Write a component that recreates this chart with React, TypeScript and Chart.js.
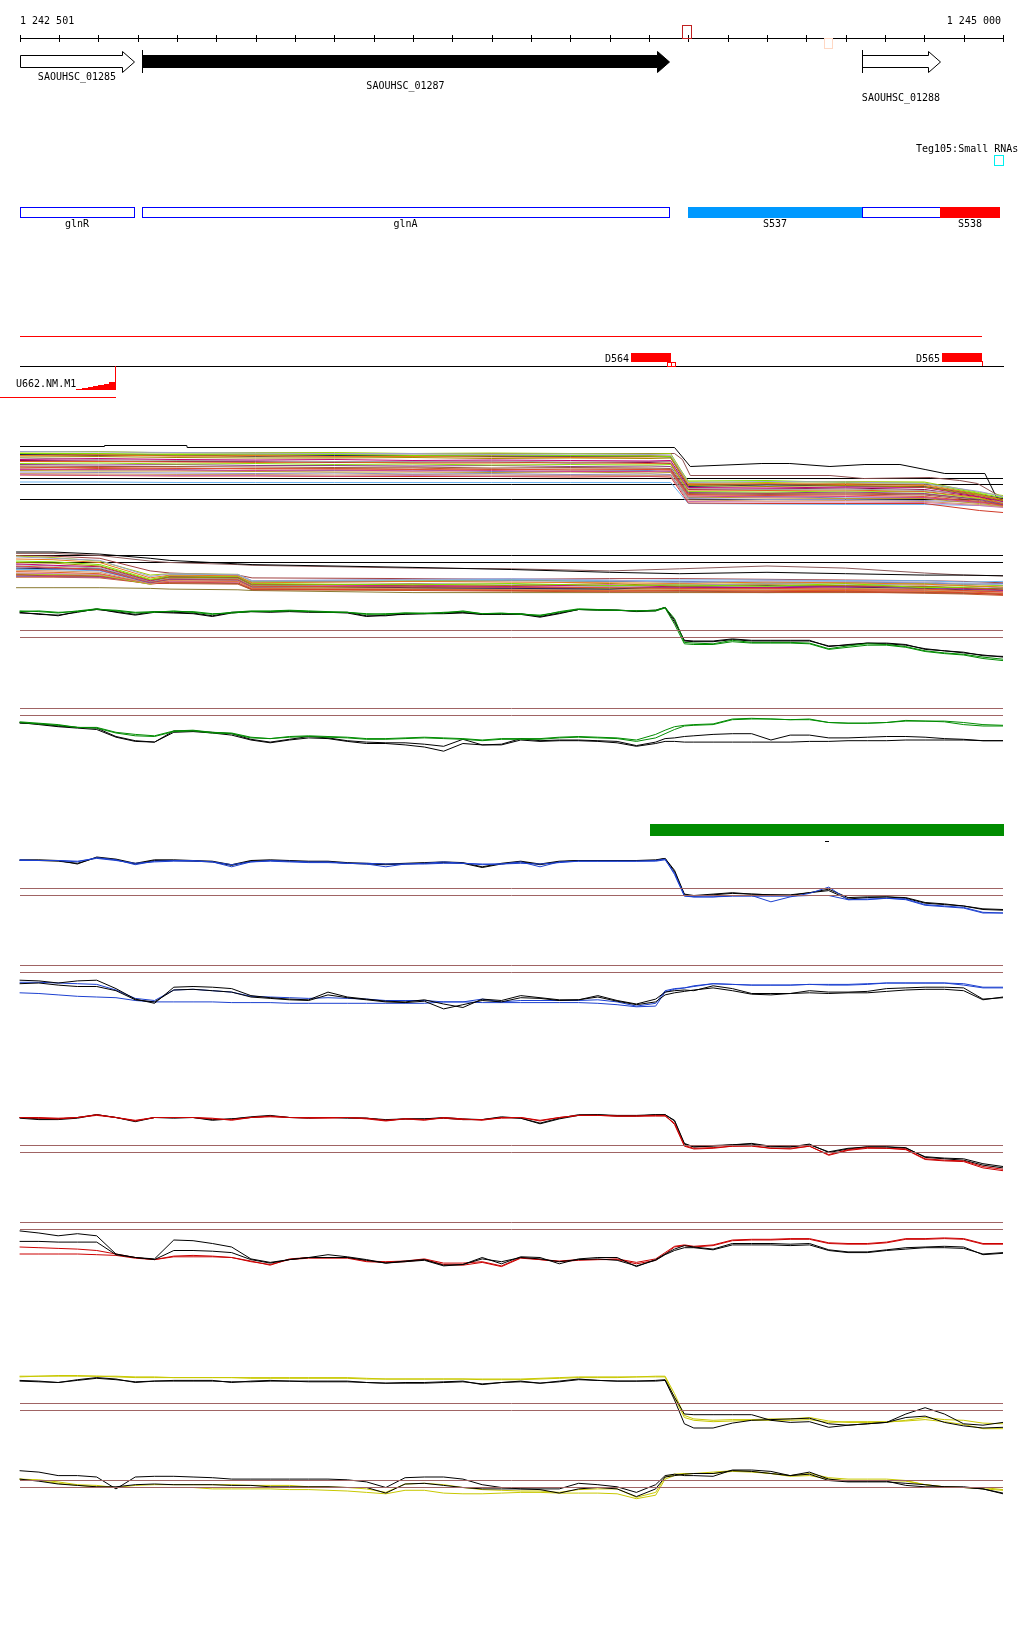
import React, { useEffect, useRef } from "react";
import { Chart, registerables } from "chart.js";
Chart.register(...registerables);

// ---------------- genomic window ----------------
const WINDOW_START = 1242501;
const WINDOW_END = 1245000;
const START_LABEL = "1 242 501";
const END_LABEL = "1 245 000";

// ---------------- annotation data ----------------
const GENE_NAMES = ["SAOUHSC_01285", "SAOUHSC_01287", "SAOUHSC_01288"];
const GENE_STARTS = [1242501, 1242810, 1244641];
const GENE_ENDS = [1242791, 1244151, 1244840];

const REGION_NAMES = ["glnR", "glnA", "S537", "", "S538"];
const REGION_STARTS = [1242501, 1242810, 1244199, 1244641, 1244840];
const REGION_ENDS = [1242790, 1244151, 1244641, 1244840, 1244992];

const RULER_MARK_STARTS = [1244184, 1244545];
const RULER_MARK_ENDS = [1244207, 1244565];

const SRNA_LABEL = "Teg105:Small RNAs";
const SRNA_START = 1244977;
const SRNA_END = 1245000;

const CONS_RED_START = 1242501;
const CONS_RED_END = 1244947;
const DOMAIN_NAMES = ["D564", "D565"];
const DOMAIN_STARTS = [1244054, 1244845];
const DOMAIN_ENDS = [1244156, 1244947];

const U662_LABEL = "U662.NM.M1";
const U662_STEP_STARTS = [1242643, 1242658, 1242673, 1242686, 1242699, 1242714, 1242727];
const U662_STEP_END = 1242742;
const U662_STEP_HEIGHTS = [1, 2, 3, 4, 5, 6, 8];

const SEG_BAR_START = 1244103;
const SEG_BAR_END = 1245000;
const SEG_MARK = 1244548;

// ---------------- multi-sample panel 1 ----------------
const M1_X = [1242501, 1242700, 1242900, 1243100, 1243300, 1243500, 1243700, 1243900, 1244100, 1244155, 1244200, 1244400, 1244600, 1244800, 1244940, 1245000];
const M1_LINES = [
  [9.6, 9.5, 9.4, 9.3, 9.2, 9.2, 9.0, 9.1, 9.0, 8.9, 3.4, 3.6, 3.5, 3.2, 1.6, 0.6],
  [9.2, 9.2, 9.0, 9.1, 9.0, 8.8, 8.9, 8.8, 8.7, 8.6, 3.7, 3.8, 3.4, 3.3, 1.2, 0.4],
  [8.8, 8.9, 8.7, 8.8, 8.6, 8.6, 8.5, 8.4, 8.5, 8.6, 3.0, 3.2, 3.0, 2.8, 1.0, 0.0],
  [8.5, 8.6, 8.4, 8.3, 8.3, 8.4, 8.2, 8.3, 8.2, 8.3, 2.8, 2.6, 2.8, 2.5, 0.8, -0.2],
  [8.0, 8.2, 8.0, 7.9, 8.0, 7.8, 7.9, 7.8, 7.7, 7.8, 2.4, 2.3, 2.5, 2.4, 0.6, -0.4],
  [8.3, 8.0, 7.8, 7.7, 7.6, 7.6, 7.7, 7.5, 7.6, 7.6, 2.2, 2.0, 2.1, 1.8, 0.9, -0.6],
  [7.6, 7.6, 7.5, 7.4, 7.5, 7.3, 7.3, 7.4, 7.2, 7.3, 1.9, 1.8, 1.9, 1.6, 0.4, -0.8],
  [7.2, 7.3, 7.1, 7.2, 7.0, 7.1, 6.9, 7.0, 6.9, 7.0, 1.6, 1.5, 1.7, 1.5, 0.2, -0.6],
  [7.0, 6.9, 7.0, 6.8, 6.8, 6.7, 6.8, 6.6, 6.7, 6.6, 1.4, 1.3, 1.5, 1.2, 0.0, -1.0],
  [6.7, 6.6, 6.6, 6.5, 6.4, 6.5, 6.3, 6.4, 6.3, 6.2, 1.2, 1.0, 1.1, 0.9, -0.2, -1.0],
  [6.3, 6.4, 6.2, 6.2, 6.1, 6.0, 6.1, 5.9, 6.0, 5.9, 0.9, 0.8, 0.9, 0.6, -0.4, -1.2],
  [6.0, 6.0, 5.9, 5.8, 5.9, 5.7, 5.8, 5.6, 5.6, 5.7, 0.7, 0.5, 0.6, 0.4, -0.6, -1.1],
  [5.8, 5.7, 5.7, 5.6, 5.5, 5.5, 5.4, 5.5, 5.3, 5.4, 0.5, 0.3, 0.2, 0.2, -0.8, -1.3],
  [5.5, 5.4, 5.3, 5.2, 5.3, 5.1, 5.2, 5.0, 5.1, 5.0, 0.2, 0.0, 0.0, -0.2, -0.6, -1.0],
  [5.2, 5.1, 5.0, 5.0, 4.9, 5.0, 4.9, 4.9, 4.8, 4.9, -0.1, -0.3, -0.2, -0.4, -1.0, -1.4],
  [5.0, 4.9, 4.8, 4.8, 4.7, 4.8, 4.7, 4.8, 4.7, 4.8, -0.4, -0.5, -0.5, -0.6, -1.2, -1.6],
  [4.9, 4.8, 4.7, 4.7, 4.6, 4.6, 4.6, 4.5, 4.6, 4.5, -0.7, -0.8, -0.8, -0.8, -2.2, -2.6],
  [3.5, 3.5, 3.4, 3.4, 3.4, 3.4, 3.4, 3.4, 3.4, 3.4, -0.8, -0.9, -1.0, -1.0, -1.2, -1.4],
  [9.0, 8.8, 8.9, 8.7, 8.8, 8.8, 8.6, 8.7, 8.6, 8.5, 2.6, 2.9, 2.7, 2.6, 1.0, 0.2],
  [9.5, 9.6, 9.3, 9.4, 9.4, 9.2, 9.3, 9.2, 9.1, 9.2, 3.5, 3.4, 3.6, 3.5, 1.4, 0.8],
  [6.5, 6.2, 6.3, 6.1, 6.2, 6.3, 6.0, 6.1, 6.1, 6.0, 1.0, 1.2, 1.3, 1.1, 0.1, -0.8],
  [7.8, 7.7, 7.6, 7.6, 7.4, 7.5, 7.5, 7.3, 7.4, 7.2, 2.0, 2.1, 2.3, 2.0, 0.5, -0.5],
  [9.0, 9.1, 8.7, 8.6, 8.5, 8.7, 8.8, 8.6, 8.8, 8.7, 3.2, 3.0, 3.2, 3.0, 1.1, -0.3],
  [6.1, 5.9, 6.0, 5.7, 5.8, 5.9, 5.6, 5.7, 5.8, 5.6, 0.4, 0.6, 0.3, 0.4, -0.5, -1.0],
];
const M1_TOP_X = [1242501, 1242715, 1242716, 1242925, 1242926, 1244165, 1244205, 1244387, 1244458, 1244560, 1244649, 1244738, 1244802, 1244852, 1244954, 1244985, 1245000];
const M1_TOP_V = [10.6, 10.6, 10.8, 10.8, 10.4, 10.4, 6.6, 7.2, 7.2, 6.6, 7.0, 7.0, 6.0, 5.2, 5.2, 0.2, 0.2];
const M1_BROWN_X = [1242501, 1244165, 1244185, 1244205, 1244560, 1244645, 1244815, 1244890, 1244935, 1244975, 1245000];
const M1_BROWN_V = [9.0, 9.2, 8.0, 4.8, 4.8, 4.2, 4.4, 3.8, 3.2, 1.4, 0.4];
const M1_REF_LEVELS = [4.2, 3.0, 0];

// ---------------- multi-sample panel 2 ----------------
const M2_X = [1242491, 1242585, 1242704, 1242832, 1242882, 1243055, 1243091, 1243500, 1243750, 1244000, 1244178, 1244400, 1244600, 1244800, 1244900, 1245000];
const M2_LINES = [
  [1.5, 1.5, 1.2, 0.6, 0.3, -0.2, -0.3, -0.7, -1.0, -1.4, -1.6, -1.4, -1.6, -1.8, -1.8, -1.9],
  [1.3, 1.3, 1.0, 0.2, 0.0, -0.3, -0.4, -0.8, -0.9, -1.2, -0.9, -0.5, -0.8, -1.5, -1.8, -1.9],
  [0.8, 0.6, 0.3, -2.0, -1.6, -1.7, -2.6, -2.4, -2.3, -2.5, -2.9, -2.6, -2.7, -2.8, -3.0, -3.2],
  [0.5, 0.4, 0.0, -2.2, -1.8, -1.9, -2.9, -2.7, -2.8, -2.9, -3.0, -2.8, -2.9, -3.1, -3.3, -3.5],
  [0.2, 0.1, -0.3, -2.4, -1.9, -2.0, -3.0, -3.2, -3.0, -3.3, -3.2, -3.4, -3.0, -3.6, -3.5, -3.3],
  [0.0, -0.1, -0.5, -2.5, -2.1, -2.2, -3.2, -3.1, -3.3, -3.0, -3.4, -3.2, -3.3, -3.4, -3.6, -3.8],
  [-0.2, -0.4, -0.6, -2.6, -2.0, -2.1, -3.1, -3.3, -3.4, -3.2, -3.5, -3.6, -3.5, -3.4, -3.7, -3.9],
  [-0.3, -0.5, -0.8, -2.7, -2.2, -2.3, -3.3, -3.0, -3.1, -3.4, -3.3, -3.0, -3.1, -3.2, -3.3, -3.6],
  [-0.5, -0.7, -1.0, -2.8, -2.3, -2.4, -3.4, -3.5, -3.5, -3.6, -3.7, -3.7, -3.8, -3.8, -4.0, -4.2],
  [-0.6, -0.8, -1.1, -2.9, -2.4, -2.5, -3.5, -3.4, -3.6, -3.5, -3.6, -3.5, -3.4, -3.6, -3.8, -4.0],
  [-0.8, -0.9, -0.9, -2.7, -2.1, -2.2, -3.3, -3.6, -3.7, -3.8, -3.4, -3.3, -3.5, -3.7, -3.9, -3.6],
  [-1.0, -1.0, -1.2, -2.9, -1.7, -1.8, -2.6, -2.5, -2.4, -2.6, -2.5, -2.5, -2.6, -2.6, -2.8, -2.7],
  [-1.1, -1.2, -1.4, -3.0, -2.5, -2.6, -3.6, -3.7, -3.8, -3.9, -3.8, -3.9, -3.8, -3.9, -4.1, -4.0],
  [-1.3, -1.4, -1.6, -3.0, -2.6, -2.7, -3.7, -3.8, -3.9, -4.0, -3.9, -4.0, -4.0, -4.1, -4.2, -4.4],
  [-1.5, -1.6, -1.7, -3.0, -2.7, -2.8, -3.2, -3.3, -3.4, -3.3, -3.1, -3.2, -3.3, -3.5, -3.6, -3.7],
  [-1.6, -1.7, -1.8, -3.1, -2.3, -2.4, -3.5, -3.6, -3.5, -3.7, -3.8, -3.6, -3.7, -3.9, -4.0, -4.0],
  [-1.7, -1.8, -1.9, -3.1, -2.8, -2.9, -3.8, -3.9, -4.0, -4.1, -4.0, -4.1, -4.2, -4.2, -4.3, -4.6],
  [-1.8, -1.9, -2.0, -2.8, -2.9, -3.0, -3.9, -3.8, -3.9, -4.0, -4.1, -4.2, -4.1, -4.3, -4.4, -4.5],
  [-1.9, -2.0, -2.1, -2.9, -2.4, -2.5, -3.6, -3.7, -3.6, -3.8, -3.7, -3.8, -3.9, -4.0, -4.1, -4.2],
  [-2.0, -2.0, -2.1, -2.8, -2.0, -2.1, -2.8, -2.7, -2.6, -2.7, -2.7, -2.8, -2.8, -2.9, -3.1, -3.0],
  [-2.1, -2.1, -2.2, -3.0, -3.0, -3.1, -3.9, -4.0, -4.1, -4.2, -4.2, -4.3, -4.2, -4.4, -4.5, -4.7],
  [-3.6, -3.6, -3.6, -3.7, -3.8, -3.9, -4.0, -4.3, -4.3, -4.3, -4.3, -4.3, -4.3, -4.3, -4.4, -4.4],
  [0.9, 0.7, 0.2, -1.8, -1.6, -1.7, -2.7, -2.6, -2.5, -2.7, -2.8, -3.0, -2.9, -3.0, -3.1, -3.3],
  [1.0, 0.9, 0.6, -1.2, -1.5, -1.8, -2.2, -2.3, -2.4, -2.3, -2.3, -2.4, -2.5, -2.6, -2.7, -2.9],
];
const M2_REF_LEVELS = [1, 0];

// ---------------- paired expression panels (shared positions) ----------------
const XS = [
  1242500, 1242549, 1242598, 1242647, 1242696, 1242745, 1242794, 1242843, 1242892, 1242941,
  1242990, 1243039, 1243088, 1243137, 1243186, 1243235, 1243284, 1243333, 1243382, 1243431,
  1243480, 1243529, 1243578, 1243627, 1243676, 1243725, 1243774, 1243823, 1243872, 1243921,
  1243970, 1244019, 1244068, 1244117, 1244141, 1244165, 1244190, 1244214, 1244263, 1244312,
  1244361, 1244410, 1244459, 1244508, 1244557, 1244606, 1244655, 1244704, 1244753, 1244802,
  1244851, 1244900, 1244949, 1245000,
];
const THRESHOLD_LEVELS = [1, 0];

const GA_GREEN_1 = [3.8, 3.7, 3.5, 3.8, 4.1, 3.8, 3.5, 3.6, 3.8, 3.6, 3.3, 3.6, 3.8, 3.8, 3.9, 3.8, 3.7, 3.6, 3.4, 3.3, 3.5, 3.5, 3.5, 3.8, 3.4, 3.4, 3.4, 3.1, 3.7, 4.1, 4.0, 3.9, 3.8, 3.9, 4.3, 2.7, -0.7, -0.8, -0.9, -0.4, -0.7, -0.7, -0.7, -0.8, -1.6, -1.2, -0.9, -1.0, -1.3, -1.9, -2.2, -2.4, -2.8, -3.1];
const GA_GREEN_2 = [3.7, 3.8, 3.6, 3.7, 4.0, 3.9, 3.6, 3.7, 3.7, 3.7, 3.4, 3.5, 3.7, 3.7, 3.8, 3.7, 3.6, 3.6, 3.3, 3.4, 3.5, 3.4, 3.6, 3.7, 3.4, 3.5, 3.3, 3.2, 3.6, 4.0, 3.9, 3.9, 3.8, 3.8, 4.2, 1.9, -0.9, -1.0, -1.0, -0.6, -0.8, -0.8, -0.8, -0.9, -1.7, -1.4, -1.1, -1.1, -1.4, -2.0, -2.3, -2.5, -3.0, -3.3];
const GA_BLACK_1 = [3.5, 3.4, 3.1, 3.7, 4.0, 3.7, 3.3, 3.7, 3.6, 3.5, 3.1, 3.6, 3.7, 3.7, 3.8, 3.7, 3.6, 3.6, 3.1, 3.1, 3.4, 3.4, 3.5, 3.6, 3.3, 3.4, 3.4, 3.0, 3.5, 4.0, 4.0, 3.9, 3.8, 3.9, 4.3, 2.2, -0.4, -0.5, -0.5, -0.2, -0.4, -0.4, -0.4, -0.4, -1.3, -1.0, -0.8, -0.8, -1.0, -1.7, -1.9, -2.1, -2.6, -2.7];
const GA_BLACK_2 = [3.6, 3.3, 3.2, 3.6, 4.1, 3.6, 3.2, 3.6, 3.5, 3.4, 3.0, 3.5, 3.7, 3.6, 3.7, 3.6, 3.6, 3.5, 3.0, 3.2, 3.3, 3.4, 3.4, 3.5, 3.3, 3.3, 3.3, 2.9, 3.4, 4.0, 3.9, 3.9, 3.7, 3.8, 4.3, 2.5, -0.5, -0.6, -0.6, -0.3, -0.5, -0.5, -0.5, -0.5, -1.2, -1.1, -0.8, -0.9, -1.1, -1.6, -1.9, -2.2, -2.5, -2.8];

const GB_GREEN_1 = [-0.9, -1.1, -1.3, -1.7, -1.7, -2.4, -2.7, -2.9, -2.2, -2.1, -2.4, -2.5, -3.1, -3.3, -3.0, -2.9, -3.0, -3.1, -3.3, -3.3, -3.2, -3.1, -3.2, -3.3, -3.5, -3.3, -3.3, -3.3, -3.1, -3.0, -3.1, -3.2, -3.5, -2.7, -2.1, -1.6, -1.4, -1.3, -1.2, -0.5, -0.4, -0.5, -0.6, -0.5, -1.0, -1.1, -1.1, -1.0, -0.7, -0.8, -0.8, -1.0, -1.3, -1.4];
const GB_GREEN_2 = [-1.0, -1.2, -1.4, -1.7, -1.8, -2.5, -2.9, -3.0, -2.3, -2.2, -2.5, -2.6, -3.2, -3.3, -3.1, -3.0, -3.1, -3.2, -3.4, -3.4, -3.3, -3.2, -3.3, -3.4, -3.6, -3.4, -3.4, -3.4, -3.2, -3.1, -3.2, -3.3, -3.7, -3.2, -2.6, -2.0, -1.5, -1.4, -1.3, -0.6, -0.5, -0.5, -0.6, -0.6, -1.0, -1.1, -1.1, -1.0, -0.8, -0.8, -0.9, -1.3, -1.5, -1.5];
const GB_BLACK_1 = [-1.1, -1.2, -1.5, -1.7, -1.8, -3.0, -3.6, -3.8, -2.2, -2.2, -2.4, -2.6, -3.4, -3.8, -3.4, -3.0, -3.2, -3.6, -3.8, -3.9, -3.9, -4.1, -4.4, -3.4, -4.2, -4.1, -3.3, -3.6, -3.5, -3.5, -3.6, -3.7, -4.3, -3.8, -3.3, -3.2, -3.0, -2.9, -2.7, -2.6, -2.6, -3.5, -2.8, -2.8, -3.2, -3.2, -3.1, -3.0, -3.0, -3.1, -3.3, -3.4, -3.6, -3.6];
const GB_BLACK_2 = [-1.0, -1.3, -1.6, -1.8, -2.0, -3.1, -3.7, -3.8, -2.4, -2.3, -2.5, -2.8, -3.5, -3.9, -3.5, -3.2, -3.3, -3.7, -4.0, -4.0, -4.2, -4.5, -5.1, -4.0, -4.2, -4.2, -3.5, -3.7, -3.6, -3.6, -3.7, -3.9, -4.4, -4.0, -3.7, -3.7, -3.8, -3.8, -3.8, -3.8, -3.8, -3.8, -3.8, -3.7, -3.7, -3.6, -3.6, -3.6, -3.5, -3.5, -3.5, -3.5, -3.6, -3.6];

const BA_BLUE_1 = [5.1, 5.0, 5.0, 4.8, 5.4, 5.1, 4.4, 4.9, 5.0, 5.0, 4.8, 4.1, 4.8, 5.0, 4.9, 4.8, 4.8, 4.6, 4.5, 4.1, 4.5, 4.6, 4.8, 4.6, 4.4, 4.5, 4.8, 4.1, 4.8, 4.9, 4.9, 4.9, 4.9, 5.0, 5.2, 3.0, -0.1, -0.2, -0.2, 0.0, 0.0, -0.9, -0.2, 0.3, 1.2, -0.6, -0.5, -0.4, -0.5, -1.3, -1.5, -1.7, -2.4, -2.5];
const BA_BLUE_2 = [5.0, 5.0, 5.0, 4.9, 5.3, 5.0, 4.6, 4.8, 4.9, 4.9, 4.8, 4.4, 4.8, 4.9, 4.8, 4.7, 4.7, 4.6, 4.6, 4.5, 4.5, 4.5, 4.6, 4.6, 4.5, 4.5, 4.6, 4.5, 4.7, 4.9, 4.9, 4.9, 4.9, 4.9, 5.1, 3.2, 0.0, -0.2, -0.2, -0.1, -0.1, -0.1, -0.1, 0.0, 0.0, -0.6, -0.6, -0.4, -0.6, -1.4, -1.6, -1.8, -2.5, -2.5];
const BA_BLACK_1 = [5.1, 5.1, 5.0, 4.5, 5.5, 5.2, 4.6, 5.1, 5.1, 5.0, 4.9, 4.4, 5.0, 5.1, 5.0, 4.9, 4.9, 4.7, 4.6, 4.5, 4.6, 4.7, 4.8, 4.7, 4.1, 4.6, 4.9, 4.5, 4.9, 5.0, 5.0, 5.0, 5.0, 5.1, 5.3, 3.4, 0.1, -0.1, 0.1, 0.3, 0.2, 0.1, 0.0, 0.4, 0.7, -0.5, -0.3, -0.2, -0.4, -1.1, -1.3, -1.5, -2.0, -2.1];
const BA_BLACK_2 = [5.0, 5.0, 4.9, 4.6, 5.4, 5.1, 4.5, 5.0, 5.0, 4.9, 4.8, 4.3, 4.9, 5.0, 4.9, 4.8, 4.8, 4.6, 4.5, 4.4, 4.5, 4.6, 4.7, 4.6, 4.0, 4.5, 4.8, 4.4, 4.8, 5.0, 5.0, 5.0, 5.0, 5.0, 5.3, 3.6, 0.2, 0.0, 0.2, 0.4, 0.2, 0.1, 0.1, 0.4, 0.9, -0.3, -0.2, -0.2, -0.3, -1.0, -1.2, -1.5, -1.9, -2.0];

const BB_BLACK_1 = [-1.1, -1.2, -1.5, -1.2, -1.1, -2.3, -3.8, -4.4, -2.1, -2.0, -2.1, -2.3, -3.3, -3.6, -3.8, -3.9, -2.8, -3.5, -3.8, -4.1, -4.2, -3.9, -4.5, -5.0, -3.8, -4.0, -3.3, -3.6, -3.9, -3.9, -3.3, -4.0, -4.5, -3.8, -2.8, -2.6, -2.5, -2.6, -1.9, -2.3, -3.0, -3.0, -3.0, -2.6, -2.8, -2.8, -2.7, -2.3, -2.2, -2.1, -2.1, -2.2, -3.8, -3.6];
const BB_BLACK_2 = [-1.6, -1.5, -1.8, -2.0, -2.0, -2.6, -3.9, -4.2, -2.5, -2.4, -2.6, -2.8, -3.5, -3.7, -3.9, -4.0, -3.2, -3.6, -3.9, -4.2, -4.3, -4.1, -5.2, -4.6, -4.0, -4.2, -3.6, -3.7, -4.0, -3.9, -3.5, -4.1, -4.6, -4.2, -3.2, -2.9, -2.7, -2.5, -2.2, -2.6, -3.1, -3.2, -3.0, -2.9, -3.0, -2.9, -2.9, -2.7, -2.5, -2.4, -2.4, -2.6, -3.9, -3.5];
const BB_BLUE_1 = [-1.4, -1.4, -1.5, -1.6, -1.7, -2.5, -3.7, -4.0, -2.5, -2.4, -2.6, -2.8, -3.4, -3.5, -3.6, -3.7, -3.6, -3.7, -3.8, -4.0, -4.0, -4.0, -4.2, -4.2, -3.8, -4.2, -4.0, -4.0, -4.0, -4.0, -3.9, -4.2, -4.8, -4.4, -2.6, -2.3, -2.2, -2.0, -1.6, -1.7, -1.8, -1.8, -1.8, -1.7, -1.8, -1.8, -1.7, -1.5, -1.5, -1.5, -1.5, -1.6, -2.1, -2.1];
const BB_BLUE_2 = [-2.9, -3.0, -3.2, -3.4, -3.5, -3.6, -4.0, -4.2, -4.2, -4.2, -4.2, -4.3, -4.3, -4.3, -4.4, -4.4, -4.4, -4.4, -4.4, -4.4, -4.4, -4.4, -4.2, -4.2, -4.3, -4.3, -4.3, -4.3, -4.3, -4.3, -4.4, -4.6, -4.9, -4.8, -2.8, -2.4, -2.2, -1.9, -1.6, -1.7, -1.8, -1.8, -1.8, -1.7, -1.7, -1.7, -1.6, -1.5, -1.5, -1.5, -1.5, -1.8, -2.2, -2.2];

const RA_RED_1 = [5.0, 4.9, 4.8, 5.0, 5.4, 5.0, 4.5, 5.0, 5.0, 5.0, 4.8, 4.7, 5.0, 5.2, 5.0, 5.0, 5.0, 5.0, 4.8, 4.5, 4.8, 4.6, 5.0, 4.8, 4.6, 5.0, 5.0, 4.5, 5.0, 5.3, 5.3, 5.2, 5.2, 5.3, 5.3, 4.0, 0.9, 0.5, 0.6, 0.9, 0.9, 0.6, 0.5, 0.9, -0.4, 0.3, 0.6, 0.6, 0.4, -1.0, -1.2, -1.3, -2.2, -2.6];
const RA_RED_2 = [5.0, 5.0, 4.9, 5.0, 5.3, 5.0, 4.6, 5.0, 5.0, 5.0, 4.9, 4.6, 5.0, 5.1, 5.0, 4.9, 4.9, 5.0, 4.9, 4.6, 4.8, 4.7, 4.9, 4.7, 4.7, 4.9, 5.0, 4.6, 5.0, 5.3, 5.3, 5.2, 5.2, 5.2, 5.2, 4.2, 1.0, 0.6, 0.7, 0.9, 1.0, 0.6, 0.6, 0.9, -0.3, 0.4, 0.7, 0.6, 0.5, -0.9, -1.1, -1.2, -2.0, -2.4];
const RA_BLACK_1 = [4.9, 4.7, 4.7, 4.9, 5.4, 5.0, 4.4, 5.0, 4.9, 5.0, 4.6, 4.8, 5.1, 5.3, 5.0, 4.9, 5.0, 4.9, 4.9, 4.7, 4.8, 4.8, 4.9, 4.7, 4.7, 5.1, 4.9, 4.2, 4.9, 5.4, 5.4, 5.2, 5.2, 5.4, 5.4, 4.5, 1.2, 0.8, 0.9, 1.1, 1.3, 0.9, 0.8, 1.2, 0.0, 0.5, 0.8, 0.8, 0.6, -0.6, -0.8, -0.9, -1.6, -2.0];
const RA_BLACK_2 = [5.0, 4.8, 4.8, 5.0, 5.4, 5.0, 4.5, 5.0, 5.0, 5.0, 4.7, 4.8, 5.0, 5.2, 5.0, 5.0, 5.0, 5.0, 4.9, 4.6, 4.8, 4.8, 5.0, 4.8, 4.7, 5.0, 4.9, 4.1, 4.8, 5.3, 5.4, 5.3, 5.3, 5.4, 5.4, 4.6, 1.3, 0.8, 1.0, 1.1, 1.2, 0.8, 0.8, 1.1, 0.1, 0.6, 0.8, 0.8, 0.7, -0.7, -0.9, -1.1, -1.8, -2.2];

const RB_BLACK_1 = [-0.2, -0.5, -0.9, -0.6, -0.9, -3.5, -4.0, -4.2, -1.5, -1.6, -2.0, -2.5, -4.2, -4.7, -4.3, -4.0, -3.6, -3.9, -4.3, -4.8, -4.5, -4.3, -5.1, -5.0, -4.0, -4.9, -3.9, -4.0, -4.9, -4.2, -4.0, -4.0, -5.3, -4.3, -3.5, -2.8, -2.3, -2.5, -2.8, -2.0, -2.0, -2.0, -2.1, -2.0, -2.9, -3.2, -3.2, -2.9, -2.6, -2.5, -2.4, -2.5, -3.6, -3.4];
const RB_BLACK_2 = [-1.7, -1.7, -1.8, -1.8, -1.8, -3.6, -4.0, -4.3, -3.0, -3.0, -3.1, -3.3, -4.3, -4.8, -4.3, -4.0, -4.0, -4.0, -4.4, -4.8, -4.6, -4.4, -5.2, -5.0, -4.2, -4.6, -4.0, -4.2, -4.6, -4.3, -4.2, -4.4, -5.2, -4.4, -3.6, -3.0, -2.6, -2.6, -2.9, -2.2, -2.2, -2.2, -2.3, -2.2, -3.0, -3.3, -3.3, -3.0, -2.8, -2.6, -2.6, -2.7, -3.5, -3.3];
const RB_RED_1 = [-2.5, -2.6, -2.7, -2.8, -3.0, -3.5, -4.0, -4.3, -3.8, -3.7, -3.8, -4.0, -4.5, -5.1, -4.2, -4.0, -4.0, -4.0, -4.5, -4.6, -4.5, -4.2, -4.8, -4.8, -4.6, -5.2, -4.0, -4.3, -4.5, -4.3, -4.3, -4.2, -4.7, -4.2, -3.3, -2.4, -2.2, -2.4, -2.2, -1.5, -1.4, -1.4, -1.3, -1.3, -1.9, -2.0, -2.0, -1.8, -1.3, -1.3, -1.2, -1.3, -2.0, -2.0];
const RB_RED_2 = [-3.5, -3.5, -3.5, -3.5, -3.6, -3.7, -4.1, -4.3, -3.9, -3.9, -3.9, -4.0, -4.6, -5.0, -4.3, -4.1, -4.1, -4.1, -4.6, -4.7, -4.6, -4.3, -5.0, -5.1, -4.7, -5.3, -4.1, -4.3, -4.6, -4.4, -4.3, -4.3, -4.9, -4.4, -3.5, -2.5, -2.3, -2.5, -2.3, -1.6, -1.5, -1.5, -1.4, -1.4, -2.0, -2.1, -2.1, -1.9, -1.4, -1.4, -1.3, -1.4, -2.1, -2.1];

const YA_YELLOW_1 = [4.9, 4.9, 5.0, 5.0, 4.9, 4.9, 4.8, 4.8, 4.7, 4.7, 4.7, 4.7, 4.7, 4.7, 4.7, 4.7, 4.7, 4.7, 4.6, 4.5, 4.5, 4.5, 4.5, 4.5, 4.5, 4.5, 4.5, 4.6, 4.7, 4.8, 4.8, 4.8, 4.8, 4.9, 4.9, 2.4, -0.7, -1.2, -1.4, -1.3, -1.3, -1.2, -1.2, -1.0, -1.5, -1.7, -1.7, -1.7, -1.4, -1.0, -1.3, -1.4, -1.8, -1.9];
const YA_YELLOW_2 = [4.8, 4.9, 4.9, 4.9, 4.9, 4.8, 4.7, 4.7, 4.7, 4.7, 4.7, 4.7, 4.6, 4.6, 4.6, 4.6, 4.6, 4.6, 4.5, 4.5, 4.5, 4.5, 4.5, 4.5, 4.4, 4.4, 4.4, 4.5, 4.6, 4.7, 4.7, 4.7, 4.8, 4.8, 4.8, 1.8, -1.0, -1.4, -1.6, -1.5, -1.4, -1.4, -1.4, -1.3, -1.7, -1.6, -1.6, -1.6, -1.5, -1.3, -1.6, -2.0, -2.6, -2.6];
const YA_BLACK_1 = [4.3, 4.2, 4.0, 4.4, 4.7, 4.5, 4.0, 4.2, 4.3, 4.3, 4.3, 4.0, 4.2, 4.3, 4.2, 4.2, 4.2, 4.2, 4.0, 3.9, 4.0, 4.0, 4.1, 4.2, 3.7, 4.0, 4.2, 3.9, 4.2, 4.5, 4.3, 4.2, 4.2, 4.3, 4.4, 1.9, -0.5, -0.6, -0.6, -0.6, -0.6, -1.4, -1.7, -1.6, -2.4, -2.1, -1.9, -1.7, -0.5, 0.4, -0.5, -1.9, -2.1, -1.7];
const YA_BLACK_2 = [4.2, 4.1, 4.0, 4.3, 4.6, 4.4, 4.1, 4.2, 4.2, 4.2, 4.2, 4.1, 4.1, 4.2, 4.2, 4.1, 4.1, 4.1, 4.0, 3.9, 3.9, 3.9, 4.0, 4.1, 3.8, 4.0, 4.1, 3.9, 4.1, 4.4, 4.3, 4.2, 4.2, 4.2, 4.3, 1.5, -1.9, -2.5, -2.5, -1.8, -1.4, -1.3, -1.2, -1.1, -1.9, -2.1, -1.9, -1.7, -1.0, -0.8, -1.7, -2.2, -2.5, -2.4];

const YB_BLACK_1 = [2.4, 2.2, 1.7, 1.7, 1.5, -0.2, 1.5, 1.6, 1.6, 1.5, 1.4, 1.2, 1.2, 1.2, 1.2, 1.2, 1.2, 1.1, 0.8, 0.0, 1.4, 1.5, 1.5, 1.2, 0.4, 0.0, -0.2, -0.2, -0.2, 0.6, 0.4, 0.1, -0.7, 0.4, 1.7, 1.9, 1.7, 1.7, 1.6, 2.5, 2.5, 2.3, 1.7, 2.2, 1.2, 0.9, 0.9, 0.9, 0.3, 0.1, 0.1, 0.1, -0.2, -0.9];
const YB_BLACK_2 = [1.2, 0.9, 0.5, 0.3, 0.1, 0.1, 0.4, 0.5, 0.4, 0.4, 0.4, 0.3, 0.3, 0.1, 0.1, 0.1, 0.1, 0.0, 0.0, -0.8, 0.5, 0.6, 0.3, 0.0, -0.2, -0.2, -0.2, -0.3, -0.8, -0.2, 0.0, -0.2, -1.3, -0.2, 1.5, 1.7, 1.9, 2.0, 2.0, 2.4, 2.3, 2.0, 1.7, 1.9, 1.0, 0.8, 0.8, 0.8, 0.6, 0.4, 0.1, 0.0, -0.2, -0.8];
const YB_YELLOW_1 = [1.2, 1.1, 0.8, 0.4, 0.3, 0.0, 0.3, 0.4, 0.4, 0.4, 0.4, 0.4, 0.3, 0.3, 0.3, 0.1, 0.1, 0.0, -0.2, -0.7, 0.5, 0.6, 0.4, 0.0, -0.3, -0.4, -0.5, -0.5, -0.7, -0.3, -0.2, -0.2, -1.4, -0.7, 1.5, 1.9, 2.0, 2.0, 2.2, 2.4, 2.3, 2.0, 1.7, 2.0, 1.4, 1.2, 1.2, 1.2, 1.0, 0.4, 0.1, 0.0, 0.0, -0.3];
const YB_YELLOW_2 = [1.2, 1.0, 0.6, 0.3, 0.1, 0.0, 0.0, 0.0, 0.0, 0.0, -0.2, -0.2, -0.2, -0.2, -0.3, -0.3, -0.4, -0.5, -0.7, -0.9, -0.4, -0.4, -0.8, -0.9, -0.9, -0.8, -0.7, -0.7, -0.8, -0.8, -0.8, -0.9, -1.6, -1.1, 1.2, 1.7, 1.9, 2.0, 2.0, 2.3, 2.2, 2.0, 1.6, 1.7, 1.2, 1.0, 1.0, 1.0, 0.9, 0.4, 0.1, 0.0, -0.2, -0.4];

// ---------------- styles & layout ----------------
const W = 1024;
const H = 1640;
const LEFT_PX = 20;
const RIGHT_PX = 1003;
const PX_PER_BP = (RIGHT_PX - LEFT_PX) / (WINDOW_END - WINDOW_START);
const XMIN = WINDOW_START - LEFT_PX / PX_PER_BP;
const XMAX = XMIN + W / PX_PER_BP;
const FONT = '10px "DejaVu Sans Mono", "Liberation Mono", monospace';

const C_GREEN = "#008c00";
const C_BLUE = "#1c40d0";
const C_RED = "#cc0000";
const C_YELLOW = "#c8c800";
const C_BLACK = "#000000";
const C_THRESH = "#a06464";

const M1_COLORS = ["#a0a0d0", "#7fe000", "#e8781e", "#a08a00", "#c0007a", "#a0a0a0", "#e06020", "#90e010", "#8a3d8a", "#9c5a3c", "#e04a30", "#d0408f", "#b89a30", "#9090c0", "#d09a6a", "#d070b0", "#d03a28", "#6cb4f0", "#1a2050", "#a0d000", "#c05a28", "#8a0050", "#c88a3a", "#7080c0"];
const M2_COLORS = ["#000000", "#8b5a5a", "#a0a0d0", "#e8781e", "#7fe000", "#a08a00", "#c0007a", "#a0a0a0", "#e04a30", "#8a3d8a", "#1a2050", "#6cb4f0", "#d09a6a", "#e06020", "#d070b0", "#90e010", "#d03a28", "#9c5a3c", "#d0408f", "#7080c0", "#c05a28", "#8a7a30", "#a0d000", "#a04040"];

// panel placement: pixel row of value 0 and pixels per unit
const PANELS: Record<string, { row: number; ppu: number }> = {
  yM1: { row: 499, ppu: 5 },
  yM2: { row: 562, ppu: 7 },
  yGA: { row: 637, ppu: 7 },
  yGB: { row: 715, ppu: 7 },
  yBA: { row: 895, ppu: 7 },
  yBB: { row: 972, ppu: 7 },
  yRA: { row: 1152, ppu: 7 },
  yRB: { row: 1229, ppu: 7 },
  yYA: { row: 1410, ppu: 7 },
  yYB: { row: 1487, ppu: 7 },
};

const L = {
  rulerLabelBase: 24, rulerRow: 38, tickTop: 35, tickBot: 41,
  markRedTop: 25, markRedBot: 38, markPeachTop: 38, markPeachBot: 48,
  bodyTop: 55, bodyBot: 67, headTop: 51, headBot: 72, headLen: 12, startTickTop: 50, startTickBot: 72,
  geneLabelBase: [80, 89, 101],
  srnaLabelX: 916, srnaLabelBase: 152, srnaBoxTop: 155, srnaBoxBot: 165,
  regionTop: 207, regionBot: 217, regionLabelBase: 227,
  consRedRow: 336, consBlackRow: 366, domTop: 353, domBot: 361, domLabelBase: 362,
  u662LabelX: 16, u662LabelBase: 387, u662Base: 389, u662LineRow: 397,
  segTop: 824, segBot: 835, segMarkRow: 841,
};

function series(xs: number[], ys: number[]) {
  return xs.map((x, i) => ({ x, y: ys[i] }));
}

function lineDs(xs: number[], ys: number[], color: string, axis: string, width = 1) {
  return {
    type: "line",
    data: series(xs, ys),
    borderColor: color,
    backgroundColor: color,
    borderWidth: width,
    pointRadius: 0,
    pointHoverRadius: 0,
    fill: false,
    tension: 0,
    xAxisID: "x",
    yAxisID: axis,
  };
}

const tracksPlugin = {
  id: "genomeTracks",
  afterDatasetsDraw(chart: any) {
    const ctx = chart.ctx;
    const xs = chart.scales.x;
    const X = (bp: number) => Math.round(xs.getPixelForValue(bp));
    ctx.save();
    ctx.font = FONT;
    ctx.textBaseline = "alphabetic";
    ctx.lineWidth = 1;

    // ruler
    ctx.fillStyle = "#000";
    ctx.textAlign = "left";
    ctx.fillText(START_LABEL, X(WINDOW_START), L.rulerLabelBase);
    ctx.textAlign = "right";
    ctx.fillText(END_LABEL, X(WINDOW_END) - 2, L.rulerLabelBase);
    ctx.fillRect(X(WINDOW_START), L.rulerRow, X(WINDOW_END) - X(WINDOW_START) + 1, 1);
    const ticks = [WINDOW_START];
    for (let t = Math.ceil((WINDOW_START + 1) / 100) * 100; t <= WINDOW_END; t += 100) ticks.push(t);
    ticks.forEach((t) => ctx.fillRect(X(t), L.tickTop, 1, L.tickBot - L.tickTop + 1));
    ctx.strokeStyle = "#c02020";
    ctx.strokeRect(X(RULER_MARK_STARTS[0]) + 0.5, L.markRedTop + 0.5, X(RULER_MARK_ENDS[0]) - X(RULER_MARK_STARTS[0]), L.markRedBot - L.markRedTop);
    ctx.strokeStyle = "#ffd8c4";
    ctx.strokeRect(X(RULER_MARK_STARTS[1]) + 0.5, L.markPeachTop + 0.5, X(RULER_MARK_ENDS[1]) - X(RULER_MARK_STARTS[1]), L.markPeachBot - L.markPeachTop);

    // genes
    const fills = ["#ffffff", "#000000", "#ffffff"];
    GENE_NAMES.forEach((name, i) => {
      const x0 = X(GENE_STARTS[i]);
      const x1 = X(GENE_ENDS[i]);
      const hb = x1 - L.headLen;
      const mid = (L.headTop + L.headBot) / 2 + 0.5;
      ctx.beginPath();
      ctx.moveTo(x0 + 0.5, L.bodyTop + 0.5);
      ctx.lineTo(hb + 0.5, L.bodyTop + 0.5);
      ctx.lineTo(hb + 0.5, L.headTop + 0.5);
      ctx.lineTo(x1 + 0.5, mid);
      ctx.lineTo(hb + 0.5, L.headBot + 0.5);
      ctx.lineTo(hb + 0.5, L.bodyBot + 0.5);
      ctx.lineTo(x0 + 0.5, L.bodyBot + 0.5);
      ctx.closePath();
      ctx.fillStyle = fills[i];
      ctx.fill();
      ctx.strokeStyle = "#000";
      ctx.stroke();
      if (i > 0) {
        ctx.fillStyle = "#000";
        ctx.fillRect(x0, L.startTickTop, 1, L.startTickBot - L.startTickTop + 1);
      }
      ctx.fillStyle = "#000";
      ctx.textAlign = "center";
      ctx.fillText(name, (x0 + x1) / 2, L.geneLabelBase[i]);
    });

    // small RNA
    ctx.textAlign = "left";
    ctx.fillStyle = "#000";
    ctx.fillText(SRNA_LABEL, L.srnaLabelX, L.srnaLabelBase);
    ctx.strokeStyle = "#00f0f0";
    ctx.strokeRect(X(SRNA_START) + 0.5, L.srnaBoxTop + 0.5, X(SRNA_END) - X(SRNA_START), L.srnaBoxBot - L.srnaBoxTop);

    // regions
    const regionFill = [null, null, "#0099ff", null, "#ff0000"];
    REGION_NAMES.forEach((name, i) => {
      const x0 = X(REGION_STARTS[i]);
      const x1 = X(REGION_ENDS[i]);
      if (regionFill[i]) {
        ctx.fillStyle = regionFill[i];
        ctx.fillRect(x0, L.regionTop, x1 - x0, L.regionBot - L.regionTop + 1);
      } else {
        ctx.strokeStyle = "#0000ff";
        ctx.strokeRect(x0 + 0.5, L.regionTop + 0.5, x1 - x0, L.regionBot - L.regionTop);
      }
      if (name) {
        ctx.fillStyle = "#000";
        ctx.textAlign = "center";
        ctx.fillText(name, (x0 + x1) / 2, L.regionLabelBase);
      }
    });

    // conservation / domains
    ctx.fillStyle = "#ff0000";
    ctx.fillRect(X(CONS_RED_START), L.consRedRow, X(CONS_RED_END) - X(CONS_RED_START), 1);
    ctx.fillStyle = "#000";
    ctx.fillRect(X(WINDOW_START), L.consBlackRow, X(WINDOW_END) - X(WINDOW_START) + 1, 1);
    DOMAIN_NAMES.forEach((name, i) => {
      const x0 = X(DOMAIN_STARTS[i]);
      const x1 = X(DOMAIN_ENDS[i]);
      ctx.fillStyle = "#ff0000";
      ctx.fillRect(x0, L.domTop, x1 - x0, L.domBot - L.domTop + 1);
      ctx.fillStyle = "#000";
      ctx.textAlign = "right";
      ctx.fillText(name, x0 - 2, L.domLabelBase);
    });
    ctx.strokeStyle = "#ff0000";
    const d0 = X(DOMAIN_ENDS[0]);
    ctx.strokeRect(d0 - 4 + 0.5, L.domBot + 1 + 0.5, 4, 4);
    ctx.strokeRect(d0 + 0.5, L.domBot + 1 + 0.5, 4, 4);
    ctx.fillStyle = "#ff0000";
    ctx.fillRect(X(DOMAIN_ENDS[1]), L.domBot, 1, L.consBlackRow - L.domBot);

    // U662 coverage profile
    ctx.fillStyle = "#000";
    ctx.textAlign = "left";
    ctx.fillText(U662_LABEL, L.u662LabelX, L.u662LabelBase);
    ctx.fillStyle = "#ff0000";
    U662_STEP_STARTS.forEach((s, i) => {
      const x0 = X(s);
      const x1 = i + 1 < U662_STEP_STARTS.length ? X(U662_STEP_STARTS[i + 1]) : X(U662_STEP_END);
      const h = U662_STEP_HEIGHTS[i];
      ctx.fillRect(x0, L.u662Base - h + 1, x1 - x0, h);
    });
    const uEnd = X(U662_STEP_END);
    ctx.fillRect(uEnd, L.consBlackRow, 1, L.u662Base - L.consBlackRow + 1);
    ctx.fillRect(0, L.u662LineRow, uEnd + 1, 1);

    // segment bar
    ctx.fillStyle = "#008c00";
    ctx.fillRect(X(SEG_BAR_START), L.segTop, X(SEG_BAR_END) - X(SEG_BAR_START) + 1, L.segBot - L.segTop + 1);
    ctx.fillStyle = "#000";
    ctx.fillRect(X(SEG_MARK), L.segMarkRow, 4, 1);

    ctx.restore();
  },
};

export default function App() {
  const ref = useRef<HTMLCanvasElement | null>(null);

  useEffect(() => {
    if (!ref.current) return;
    const datasets: any[] = [];
    const flat = (a: number, b: number, v: number, color: string, axis: string) =>
      lineDs([a, b], [v, v], color, axis);

    // panel 1 (many samples)
    M1_LINES.forEach((vals, i) => datasets.push(lineDs(M1_X, vals, M1_COLORS[i], "yM1")));
    datasets.push(lineDs(M1_BROWN_X, M1_BROWN_V, "#8c5050", "yM1"));
    M1_REF_LEVELS.forEach((v) => datasets.push(flat(WINDOW_START, WINDOW_END, v, C_BLACK, "yM1")));
    datasets.push(lineDs(M1_TOP_X, M1_TOP_V, C_BLACK, "yM1"));

    // panel 2 (many samples)
    M2_LINES.forEach((vals, i) => datasets.push(lineDs(M2_X, vals, M2_COLORS[i], "yM2")));
    M2_REF_LEVELS.forEach((v) => datasets.push(flat(WINDOW_START, WINDOW_END, v, C_BLACK, "yM2")));

    // paired panels
    const pairs: [string, number[][], string[]][] = [
      ["yGA", [GA_GREEN_1, GA_GREEN_2, GA_BLACK_1, GA_BLACK_2], [C_GREEN, C_GREEN, C_BLACK, C_BLACK]],
      ["yGB", [GB_GREEN_1, GB_GREEN_2, GB_BLACK_1, GB_BLACK_2], [C_GREEN, C_GREEN, C_BLACK, C_BLACK]],
      ["yBA", [BA_BLUE_1, BA_BLUE_2, BA_BLACK_1, BA_BLACK_2], [C_BLUE, C_BLUE, C_BLACK, C_BLACK]],
      ["yBB", [BB_BLACK_1, BB_BLACK_2, BB_BLUE_1, BB_BLUE_2], [C_BLACK, C_BLACK, C_BLUE, C_BLUE]],
      ["yRA", [RA_RED_1, RA_RED_2, RA_BLACK_1, RA_BLACK_2], [C_RED, C_RED, C_BLACK, C_BLACK]],
      ["yRB", [RB_BLACK_1, RB_BLACK_2, RB_RED_1, RB_RED_2], [C_BLACK, C_BLACK, C_RED, C_RED]],
      ["yYA", [YA_BLACK_1, YA_BLACK_2, YA_YELLOW_1, YA_YELLOW_2], [C_BLACK, C_BLACK, C_YELLOW, C_YELLOW]],
      ["yYB", [YB_BLACK_1, YB_BLACK_2, YB_YELLOW_1, YB_YELLOW_2], [C_BLACK, C_BLACK, C_YELLOW, C_YELLOW]],
    ];
    pairs.forEach(([axis, lines, colors]) => {
      THRESHOLD_LEVELS.forEach((v) => datasets.push(flat(WINDOW_START, WINDOW_END, v, C_THRESH, axis)));
      lines.forEach((vals, i) => datasets.push(lineDs(XS, vals, colors[i], axis)));
    });

    const scales: any = {
      x: { type: "linear", display: false, min: XMIN, max: XMAX, bounds: "data" },
      y: { type: "linear", display: false },
    };
    Object.keys(PANELS).forEach((id) => {
      const p = PANELS[id];
      scales[id] = {
        type: "linear",
        axis: "y",
        position: "left",
        display: false,
        bounds: "data",
        min: (p.row + 0.5 - H) / p.ppu,
        max: (p.row + 0.5) / p.ppu,
      };
    });

    const chart = new Chart(ref.current, {
      type: "line",
      data: { datasets },
      options: {
        animation: false,
        responsive: false,
        maintainAspectRatio: false,
        devicePixelRatio: 1,
        events: [],
        layout: { padding: 0 },
        plugins: { legend: { display: false }, tooltip: { enabled: false }, title: { display: false } },
        scales,
      },
      plugins: [tracksPlugin],
    } as any);
    return () => chart.destroy();
  }, []);

  return (
    <div style={{ position: "absolute", left: 0, top: 0, width: W, height: H, background: "#ffffff" }}>
      <canvas ref={ref} width={W} height={H} style={{ width: W, height: H, display: "block" }} />
    </div>
  );
}
